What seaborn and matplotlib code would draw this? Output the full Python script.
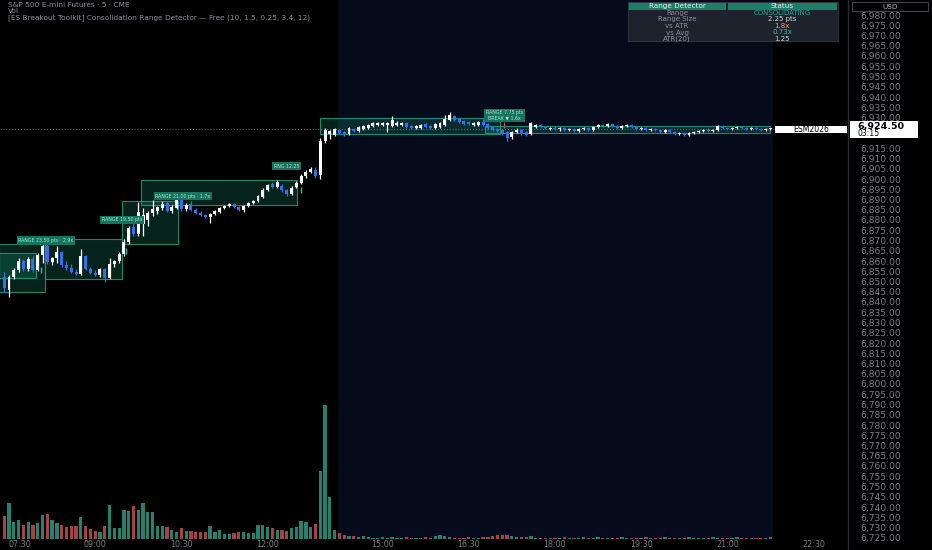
import numpy as np
import pandas as pd
import matplotlib
matplotlib.use("Agg")
import matplotlib.pyplot as plt
import seaborn as sns
from matplotlib.patches import Rectangle

# ---------------- data ----------------
opens = [6852.0, 6846.0, 6852.0, 6855.5, 6860.0, 6856.0, 6861.0, 6855.5, 6863.0, 6867.5,
         6859.5, 6861.5, 6864.5, 6858.0, 6856.5, 6854.5, 6853.5, 6862.5, 6856.0, 6854.0,
         6853.0, 6856.0, 6851.5, 6858.5, 6860.0, 6863.5, 6869.5, 6876.5, 6873.0, 6878.0,
         6880.0, 6883.5, 6884.5, 6886.0, 6888.5, 6884.5, 6886.0, 6890.0, 6885.5, 6888.0,
         6885.0, 6883.5, 6882.5, 6881.5, 6883.0, 6884.0, 6886.0, 6887.0, 6888.0, 6886.5,
         6885.0, 6887.0, 6888.5, 6889.5, 6891.0, 6894.5, 6897.5, 6896.0, 6896.5, 6894.5,
         6892.5, 6896.0, 6898.0, 6901.5, 6903.5, 6904.5, 6902.0, 6918.5, 6922.0, 6921.5,
         6924.0, 6923.0, 6922.0, 6924.5, 6923.5, 6924.5, 6925.0, 6926.0, 6926.5, 6926.5,
         6926.5, 6926.0, 6926.5, 6926.5, 6927.5, 6926.0, 6925.0, 6925.0, 6927.0, 6926.0,
         6925.0, 6925.5, 6926.5, 6929.0, 6930.5, 6929.5, 6928.5, 6928.0, 6926.5, 6926.5,
         6928.0, 6927.0, 6925.5, 6924.5, 6924.0, 6923.0, 6920.5, 6923.0, 6924.0, 6923.0,
         6922.0, 6925.5, 6926.5, 6925.5, 6924.5, 6925.0, 6924.5, 6925.0, 6924.0, 6924.5,
         6923.5, 6924.5, 6925.0, 6924.0, 6925.5, 6926.5, 6926.0, 6927.0, 6926.0, 6925.0,
         6926.0, 6926.5, 6925.5, 6924.5, 6925.0, 6924.0, 6924.5, 6924.0, 6923.0, 6924.0,
         6923.0, 6922.0, 6922.5, 6921.5, 6922.5, 6923.0, 6923.5, 6924.0, 6923.5, 6924.0,
         6926.0, 6925.0, 6924.5, 6925.0, 6925.5, 6925.0, 6924.5, 6925.0, 6924.5, 6924.0,
         6924.25]
highs = [6854.5, 6853.0, 6856.5, 6861.5, 6861.0, 6862.0, 6862.5, 6864.0, 6869.5, 6868.5,
         6862.0, 6867.5, 6865.0, 6860.0, 6858.5, 6856.0, 6866.0, 6863.0, 6857.0, 6855.5,
         6856.5, 6856.5, 6861.5, 6860.5, 6864.5, 6870.5, 6877.0, 6880.0, 6889.0, 6886.0,
         6884.5, 6890.0, 6887.0, 6889.5, 6889.5, 6887.5, 6892.5, 6891.0, 6888.5, 6889.5,
         6886.0, 6884.5, 6883.0, 6883.5, 6885.0, 6886.5, 6887.5, 6888.5, 6888.5, 6887.0,
         6887.5, 6889.0, 6890.0, 6892.0, 6895.5, 6897.5, 6898.5, 6899.5, 6897.5, 6895.0,
         6896.5, 6899.0, 6902.5, 6904.5, 6906.0, 6906.0, 6920.0, 6925.0, 6924.0, 6925.0,
         6924.5, 6923.5, 6925.5, 6925.0, 6926.0, 6926.5, 6927.0, 6928.0, 6928.0, 6927.8,
         6928.0, 6930.5, 6928.5, 6928.0, 6928.0, 6926.5, 6926.5, 6927.0, 6927.5, 6926.5,
         6927.5, 6928.0, 6931.0, 6932.5, 6931.0, 6930.0, 6929.0, 6928.5, 6928.0, 6928.5,
         6929.5, 6927.5, 6926.0, 6925.0, 6924.5, 6923.5, 6923.5, 6925.0, 6924.5, 6923.5,
         6928.0, 6927.0, 6927.0, 6926.0, 6925.5, 6926.0, 6925.5, 6925.5, 6925.0, 6925.0,
         6925.0, 6925.5, 6925.5, 6926.0, 6927.0, 6927.0, 6927.5, 6927.5, 6926.5, 6926.5,
         6927.0, 6927.0, 6926.0, 6925.5, 6925.5, 6925.0, 6925.0, 6924.5, 6924.5, 6924.5,
         6923.5, 6923.0, 6923.0, 6923.0, 6923.5, 6924.0, 6924.5, 6925.0, 6924.5, 6926.5,
         6926.5, 6925.5, 6925.5, 6926.0, 6926.0, 6925.5, 6925.5, 6925.5, 6925.0, 6925.0,
         6925.0]
lows = [6845.0, 6842.5, 6851.0, 6854.5, 6855.0, 6855.0, 6854.5, 6855.0, 6859.0, 6858.5,
        6858.0, 6859.0, 6857.0, 6855.5, 6854.0, 6853.0, 6853.0, 6855.5, 6853.5, 6852.5,
        6852.0, 6850.0, 6851.0, 6857.0, 6859.0, 6862.5, 6868.5, 6872.0, 6872.0, 6872.0,
        6877.0, 6882.0, 6883.0, 6885.0, 6884.0, 6883.5, 6885.5, 6884.5, 6884.5, 6884.5,
        6883.0, 6882.0, 6881.0, 6878.5, 6882.5, 6883.5, 6885.5, 6886.5, 6886.0, 6884.5,
        6884.0, 6886.5, 6888.0, 6889.0, 6890.5, 6894.0, 6895.5, 6895.5, 6893.5, 6891.5,
        6892.0, 6895.5, 6897.5, 6900.5, 6903.0, 6900.5, 6900.0, 6917.5, 6919.5, 6921.0,
        6922.0, 6921.0, 6921.5, 6923.0, 6923.0, 6924.0, 6924.5, 6925.5, 6926.0, 6926.0,
        6923.0, 6925.5, 6926.0, 6926.0, 6925.0, 6924.5, 6924.5, 6924.5, 6925.0, 6924.5,
        6924.5, 6925.0, 6926.0, 6928.5, 6928.5, 6927.5, 6926.5, 6926.5, 6926.0, 6926.0,
        6926.0, 6924.5, 6923.5, 6923.0, 6921.5, 6918.5, 6919.5, 6922.5, 6921.5, 6921.0,
        6921.5, 6925.0, 6925.0, 6924.5, 6924.0, 6924.0, 6923.5, 6923.5, 6923.5, 6923.0,
        6923.0, 6924.0, 6923.5, 6923.5, 6925.0, 6925.5, 6925.5, 6925.5, 6924.5, 6924.5,
        6925.5, 6925.0, 6924.0, 6924.0, 6923.5, 6923.5, 6923.5, 6922.5, 6922.5, 6922.5,
        6921.5, 6921.5, 6921.0, 6921.0, 6922.0, 6922.5, 6923.0, 6923.0, 6923.0, 6923.5,
        6924.5, 6924.0, 6924.0, 6924.5, 6924.5, 6924.0, 6924.0, 6924.0, 6923.5, 6923.5,
        6924.0]
closes = [6847.0, 6852.0, 6855.5, 6860.0, 6856.0, 6861.0, 6855.5, 6863.0, 6867.5, 6859.5,
          6861.5, 6864.5, 6858.0, 6856.5, 6854.5, 6853.5, 6862.5, 6856.0, 6854.0, 6853.0,
          6856.0, 6851.5, 6858.5, 6860.0, 6863.5, 6869.5, 6876.0, 6873.0, 6884.0, 6882.5,
          6883.5, 6885.5, 6886.5, 6888.0, 6884.5, 6886.5, 6890.0, 6885.5, 6887.5, 6885.0,
          6883.5, 6882.5, 6881.5, 6883.0, 6884.5, 6886.0, 6887.0, 6888.0, 6886.5, 6885.0,
          6887.0, 6888.5, 6889.5, 6891.5, 6894.5, 6897.0, 6896.0, 6898.5, 6894.5, 6892.5,
          6895.5, 6898.0, 6901.5, 6903.5, 6905.0, 6901.5, 6918.5, 6924.0, 6923.5, 6924.5,
          6922.5, 6921.5, 6925.0, 6923.5, 6925.5, 6926.0, 6926.5, 6927.5, 6927.5, 6927.5,
          6927.5, 6929.0, 6927.5, 6927.5, 6925.5, 6925.0, 6926.0, 6926.5, 6925.5, 6925.0,
          6927.0, 6927.5, 6929.5, 6931.0, 6929.0, 6928.0, 6927.0, 6927.0, 6927.5, 6928.0,
          6926.5, 6925.0, 6924.0, 6923.5, 6922.0, 6920.0, 6923.0, 6924.0, 6922.5, 6921.5,
          6927.5, 6926.5, 6925.5, 6925.0, 6925.0, 6924.5, 6925.0, 6924.0, 6924.5, 6923.5,
          6924.5, 6925.0, 6924.0, 6925.5, 6926.5, 6926.0, 6927.0, 6926.0, 6925.0, 6926.0,
          6926.5, 6925.5, 6924.5, 6925.0, 6924.0, 6924.5, 6924.0, 6923.0, 6924.0, 6923.0,
          6922.0, 6922.5, 6921.5, 6922.5, 6923.0, 6923.5, 6924.0, 6923.5, 6924.0, 6926.0,
          6925.0, 6924.5, 6925.0, 6925.5, 6925.0, 6924.5, 6925.0, 6924.5, 6924.0, 6924.5,
          6924.5]
# volume in hundreds of contracts
volume_hundreds = [23, 36, 17, 19, 14, 17, 14, 16, 24, 25, 19, 16, 14, 12, 13, 13, 22, 13, 10, 8,
                   7, 13, 34, 11, 11, 29, 28, 33, 29, 36, 27, 27, 13, 13, 12, 9, 7, 11, 8, 8,
                   7, 7, 7, 13, 7, 9, 5, 5, 6, 7, 7, 6, 6, 14, 14, 12, 11, 9, 9, 8,
                   11, 12, 18, 17, 12, 15, 68, 134, 42, 9, 6, 4, 3, 3, 2, 3, 2, 1, 1, 2,
                   1, 2, 1, 1, 2, 1, 1, 1, 2, 1, 3, 4, 3, 2, 1, 1, 1, 2, 1, 1,
                   2, 2, 3, 4, 4, 4, 3, 2, 2, 2, 3, 1, 1, 1, 1, 1, 1, 2, 1, 1,
                   1, 2, 1, 1, 2, 1, 1, 1, 1, 2, 1, 1, 1, 1, 2, 1, 1, 1, 2, 1,
                   1, 1, 1, 2, 1, 1, 1, 1, 2, 1, 1, 1, 1, 2, 1, 1, 1, 1, 1, 1, 2]

session_starts = ["07:25", "14:00"]
session_bars = [67, 94]
time_tick_labels = ["07:30", "09:00", "10:30", "12:00", "15:00", "16:30", "18:00", "19:30", "21:00", "22:30"]
price_tick_values = list(range(6725, 6985, 5))
last_price = 6924.50
countdown = "03:15"
symbol = "ESM2026"

# consolidation ranges (start bar, end bar, top, bottom)
range_start = [-1.0, -1.0, 8.5, 24.6, 28.6, 65.9, 100.4]
range_end = [8.5, 6.6, 24.6, 36.3, 61.1, 103.5, 160.0]
range_top = [6868.3, 6864.0, 6870.7, 6889.3, 6899.5, 6929.8, 6925.9]
range_bottom = [6844.9, 6851.5, 6851.2, 6868.3, 6887.3, 6922.0, 6922.4]

label_bar = [8.7, 24.6, 37.3, 59.0, 104.5]
label_price = [6870.0, 6880.0, 6891.7, 6906.3, 6931.0]
label_text = ["RANGE 23.50 pts · 2.9x", "RANGE 19.50 pts", "RANGE 21.00 pts · 1.7x", "RNG 12.25",
              "RANGE 7.75 pts\nBREAK ▼ 1.6x"]

signal_bar = [7.7, 25.4, 62.0]
signal_price = [6855.6, 6864.9, 6894.4]
break_bar = [104.3]
break_price = [6926.3]

table_keys = ["Range", "Range Size", "vs ATR", "vs Avg", "ATR(20)"]
table_values = ["CONSOLIDATING", "2.25 pts", "1.8x", "0.73x", "1.25"]
table_value_colors = ["#26a69a", "#d1d4dc", "#f0a35e", "#3fbf8f", "#d1d4dc"]

titles = ["S&P 500 E-mini Futures · 5 · CME", "Vol",
          "[ES Breakout Toolkit] Consolidation Range Detector — Free (10, 1.5, 0.25, 3.4, 12)"]

# ---------------- derived ----------------
o = np.array(opens); h = np.array(highs); l = np.array(lows); c = np.array(closes)
n = len(c)
idx = np.arange(n)
up = c >= o


def to_min(s):
    hh, mm = s.split(":")
    return int(hh) * 60 + int(mm)


def bar_index(s):
    m = to_min(s)
    if m < to_min(session_starts[1]) - 60:
        return (m - to_min(session_starts[0])) / 5
    return session_bars[0] + (m - to_min(session_starts[1])) / 5


df_vol = pd.DataFrame({"bar": idx, "volume": volume_hundreds,
                       "dir": np.where(up, "up", "down")})

# ---------------- figure ----------------
W, H = 932, 550
AX_BOTTOM_PX = 539          # y pixel (from top) of the plot bottom
sns.set_theme(style="dark")
plt.rcParams["font.family"] = ["DejaVu Sans"]
fig = plt.figure(figsize=(W / 100, H / 100), dpi=100, facecolor="black")
rect = [0, (H - AX_BOTTOM_PX) / H, 848 / W, AX_BOTTOM_PX / H]
XL = (-0.877, 176.2)
YL = (6980 - (AX_BOTTOM_PX - 15) / 2.05, 6980 + 15 / 2.05)

bg = fig.add_axes(rect, zorder=0)
bg.set_facecolor("black")
bg.set_xlim(XL)
bg.axvspan(69.6, 160.5, color="#060b1c", lw=0)

axv = fig.add_axes(rect, zorder=1, sharex=bg)
axv.patch.set_visible(False)
ax = fig.add_axes(rect, zorder=2, sharex=bg)
ax.patch.set_visible(False)

# ranges
for x0, x1, t, b in zip(range_start, range_end, range_top, range_bottom):
    ax.add_patch(Rectangle((x0, b), x1 - x0, t - b, facecolor=(0.10, 0.58, 0.46, 0.24),
                           edgecolor=(0.12, 0.62, 0.48, 0.85), lw=0.8, zorder=1))

# current price dotted line
ax.axhline(last_price, color="#6f727b", lw=0.7, ls=(0, (1, 2)), zorder=1)

# candles
up_col, dn_col = "#ffffff", "#3470e8"
cols = np.where(up, up_col, dn_col)
ax.vlines(idx, l, h, colors=cols, lw=0.9, zorder=3)
body = np.maximum(np.abs(c - o), 0.4)
ax.bar(idx, body, bottom=np.minimum(o, c), width=0.62, color=cols, lw=0, zorder=4)

# labels on ranges
for xb, pb, tx in zip(label_bar, label_price, label_text):
    ax.text(xb, pb, tx, fontsize=3.4, color="#a8e6d6", ha="center", va="center", zorder=5,
            linespacing=1.0,
            bbox=dict(boxstyle="square,pad=0.35", fc="#17735e", ec="none"))

ax.plot(signal_bar, signal_price, ls="none", marker="|", ms=4, mew=1.0, color="#26c28f", zorder=5)
ax.plot(break_bar, break_price, ls="none", marker="|", ms=4, mew=1.0, color="#e04848", zorder=5)

# volume
sns.barplot(data=df_vol, x="bar", y="volume", hue="dir", native_scale=True, dodge=False,
            palette={"up": "#25806d", "down": "#a44343"}, width=0.68, saturation=1,
            errorbar=None, legend=False, ax=axv, linewidth=0)
axv.set_ylim(0, max(volume_hundreds) * AX_BOTTOM_PX / 134)
axv.set_yticks([]); axv.set_ylabel(""); axv.set_xlabel("")

# axes limits and ticks
ax.set_xlim(XL)
ax.set_ylim(YL)
ax.yaxis.tick_right()
ax.set_yticks(price_tick_values)
hidden = (6920, 6925)
ax.set_yticklabels(["" if v in hidden else f"{v:,.2f}" for v in price_tick_values])
ax.tick_params(axis="y", length=0, pad=9, labelsize=6.6, labelcolor="#7b7e87")
ax.set_xticks([bar_index(t) for t in time_tick_labels])
ax.set_xticklabels(time_tick_labels)
ax.tick_params(axis="x", length=0, pad=0.8, labelsize=5.8, labelcolor="#7b7e87")
ax.get_xticklabels()[0].set_ha("left")

# hide everything on the helper axes
for a in (bg, axv):
    a.tick_params(axis="both", which="both", length=0, labelbottom=False, labelleft=False,
                  labelright=False, labeltop=False)
    a.set_ylabel(""); a.set_xlabel("")
for a in (bg, axv, ax):
    for s in a.spines.values():
        s.set_visible(False)
    a.grid(False)
ax.set_xlabel(""); ax.set_ylabel("")


# ---------------- figure-pixel helpers ----------------
def frect(x0, y0, x1, y1, **kw):
    fig.add_artist(Rectangle((x0 / W, 1 - y1 / H), (x1 - x0) / W, (y1 - y0) / H,
                             transform=fig.transFigure, zorder=10, **kw))


def ftext(x, y, s, **kw):
    fig.text(x / W, 1 - y / H, s, zorder=11, **kw)


# separator line of the price scale
fig.add_artist(plt.Line2D([848 / W, 848 / W], [0, 1], transform=fig.transFigure,
                          color="#2a2e39", lw=1.0, zorder=10))

# titles
for k, t in enumerate(titles):
    ftext(8, 5 + 6.2 * k, t, fontsize=5.3, color="#8c8f98", va="center", ha="left")

# info table
frect(628, 2, 838, 41, facecolor="#1e222d", edgecolor="#363a45", lw=0.6)
frect(629, 3, 726, 9.5, facecolor="#1b7f68", edgecolor="none")
frect(728, 3, 837, 9.5, facecolor="#1b7f68", edgecolor="none")
ftext(677, 6.3, "Range Detector", fontsize=5.2, color="#e6f4f0", ha="center", va="center")
ftext(782, 6.3, "Status", fontsize=5.2, color="#e6f4f0", ha="center", va="center")
for r, (kk, vv, vc) in enumerate(zip(table_keys, table_values, table_value_colors)):
    yy = 13 + 6.5 * r
    ftext(677, yy, kk, fontsize=5.0, color="#8c8f98", ha="center", va="center")
    ftext(782, yy, vv, fontsize=5.0, color=vc, ha="center", va="center")

# USD box
frect(852, 2, 928, 11, facecolor="black", edgecolor="#434651", lw=0.7)
ftext(890, 6.6, "USD", fontsize=5.2, color="#b2b5be", ha="center", va="center")

# symbol and price labels
frect(775, 125.5, 847, 132.5, facecolor="#ffffff", edgecolor="none")
ftext(811, 129, symbol, fontsize=5.6, color="#000000", ha="center", va="center")
frect(850, 121, 918, 138, facecolor="#ffffff", edgecolor="none")
ftext(857, 126, f"{last_price:,.2f}", fontsize=6.8, color="#000000", ha="left", va="center",
      fontweight="bold")
ftext(857, 133.5, countdown, fontsize=5.6, color="#000000", ha="left", va="center")

fig.savefig("out.png", dpi=100, facecolor="black")
